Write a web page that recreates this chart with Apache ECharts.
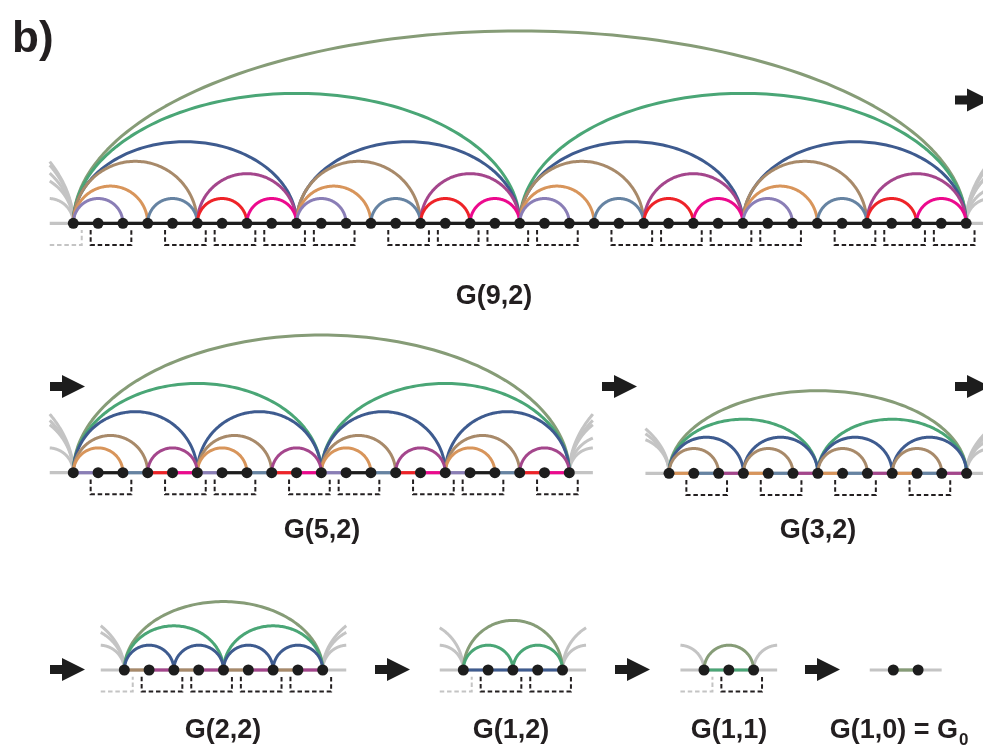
<!DOCTYPE html>
<html>
<head>
<meta charset="utf-8">
<script src="https://cdn.jsdelivr.net/npm/echarts@6/dist/echarts.min.js"></script>
<style>html,body{margin:0;padding:0;background:#fff}#c{width:983px;height:749px}</style>
</head>
<body>
<div id="c"></div>
<script>
// ---------------- DATA ----------------
// G(9,2)
const g92Nodes = [0,1,2,3,4,5,6,7,8,9,10,11,12,13,14,15,16,17,18,19,20,21,22,23,24,25,26,27,28,29,30,31,32,33,34,35,36];
const g92Arcs = [
  [0,36,'olive'],
  [0,18,'green'],[18,36,'green'],
  [0,9,'blue'],[9,18,'blue'],[18,27,'blue'],[27,36,'blue'],
  [0,5,'brown'],[9,14,'brown'],[18,23,'brown'],[27,32,'brown'],
  [5,9,'purple'],[14,18,'purple'],[23,27,'purple'],[32,36,'purple'],
  [0,3,'orange'],[9,12,'orange'],[18,21,'orange'],[27,30,'orange'],
  [3,5,'steel'],[12,14,'steel'],[21,23,'steel'],[30,32,'steel'],
  [5,7,'red'],[14,16,'red'],[23,25,'red'],[32,34,'red'],
  [7,9,'pink'],[16,18,'pink'],[25,27,'pink'],[34,36,'pink'],
  [0,2,'lavender'],[9,11,'lavender'],[18,20,'lavender'],[27,29,'lavender']
];
const g92Edges = [[0,36,'black']];
const g92Brackets = [[1,2],[4,5],[6,7],[8,9],[10,11],[13,14],[15,16],[17,18],[19,20],[22,23],[24,25],[26,27],[28,29],[31,32],[33,34],[35,36]];

// G(5,2)
const g52Nodes = [0,1,2,3,4,5,6,7,8,9,10,11,12,13,14,15,16,17,18,19,20];
const g52Arcs = [
  [0,20,'olive'],
  [0,10,'green'],[10,20,'green'],
  [0,5,'blue'],[5,10,'blue'],[10,15,'blue'],[15,20,'blue'],
  [0,3,'brown'],[5,8,'brown'],[10,13,'brown'],[15,18,'brown'],
  [0,2,'orange'],[5,7,'orange'],[10,12,'orange'],[15,17,'orange'],
  [3,5,'purple'],[8,10,'purple'],[13,15,'purple'],[18,20,'purple']
];
const g52Edges = [
  [0,1,'lavender'],[1,2,'black'],[2,3,'steel'],[3,4,'red'],[4,5,'pink'],
  [5,6,'lavender'],[6,7,'black'],[7,8,'steel'],[8,9,'red'],[9,10,'pink'],
  [10,11,'lavender'],[11,12,'black'],[12,13,'steel'],[13,14,'red'],[14,15,'pink'],
  [15,16,'lavender'],[16,17,'black'],[17,18,'steel'],[18,19,'red'],[19,20,'pink']
];
const g52Brackets = [[1,2],[4,5],[6,7],[9,10],[11,12],[14,15],[16,17],[19,20]];

// G(3,2)
const g32Nodes = [0,1,2,3,4,5,6,7,8,9,10,11,12];
const g32Arcs = [
  [0,12,'olive'],
  [0,6,'green'],[6,12,'green'],
  [0,3,'blue'],[3,6,'blue'],[6,9,'blue'],[9,12,'blue'],
  [0,2,'brown'],[3,5,'brown'],[6,8,'brown'],[9,11,'brown']
];
const g32Edges = [
  [0,1,'orange'],[1,2,'steel'],[2,3,'purple'],
  [3,4,'orange'],[4,5,'steel'],[5,6,'purple'],
  [6,7,'orange'],[7,8,'steel'],[8,9,'purple'],
  [9,10,'orange'],[10,11,'steel'],[11,12,'purple']
];
const g32Brackets = [[1,2],[4,5],[7,8],[10,11]];

// G(2,2)
const g22Nodes = [0,1,2,3,4,5,6,7,8];
const g22Arcs = [
  [0,8,'olive'],
  [0,4,'green'],[4,8,'green'],
  [0,2,'blue'],[2,4,'blue'],[4,6,'blue'],[6,8,'blue']
];
const g22Edges = [
  [0,1,'brown'],[1,2,'purple'],[2,3,'brown'],[3,4,'purple'],
  [4,5,'brown'],[5,6,'purple'],[6,7,'brown'],[7,8,'purple']
];
const g22Brackets = [[1,2],[3,4],[5,6],[7,8]];

// G(1,2)
const g12Nodes = [0,1,2,3,4];
const g12Arcs = [[0,4,'olive'],[0,2,'green'],[2,4,'green']];
const g12Edges = [[0,4,'blue']];
const g12Brackets = [[1,2],[3,4]];

// G(1,1)
const g11Nodes = [0,1,2];
const g11Arcs = [[0,2,'olive']];
const g11Edges = [[0,2,'green']];
const g11Brackets = [[1,2]];

// G(1,0)
const g10Nodes = [0,1];
const g10Arcs = [];
const g10Edges = [[0,1,'olive']];
const g10Brackets = [];

const labelTexts = ['G(9,2)','G(5,2)','G(3,2)','G(2,2)','G(1,2)','G(1,1)','G(1,0) = G'];

// ---------------- STYLE / LAYOUT ----------------
const COLORS = {
  olive:'#869c77', green:'#4aa676', blue:'#3e5b8f', brown:'#a88a6a', orange:'#d8955b',
  lavender:'#8a7eb6', steel:'#6683a2', purple:'#a4468c', red:'#ee2328', pink:'#ec098d',
  black:'#1d1d1d', gray:'#c4c4c4', text:'#231f20'
};
const UNIT = 24.8, ORIGIN_X = 73.3, W = 983, H = 749;
const GHOST = 0.95;
const FONT = '"Liberation Sans", Arial, Helvetica, sans-serif';

const GRAPHS = [
  {nodes:g92Nodes, arcs:g92Arcs, edges:g92Edges, brackets:g92Brackets, ghostBracket:true,  px:73.3,  py:223.3, flat:{olive:0.431, green:0.582, blue:0.731}, lx:494, ly:297},
  {nodes:g52Nodes, arcs:g52Arcs, edges:g52Edges, brackets:g52Brackets, ghostBracket:false, px:73.3,  py:472.7, flat:{olive:0.555, green:0.72, blue:0.985}, lx:322, ly:531},
  {nodes:g32Nodes, arcs:g32Arcs, edges:g32Edges, brackets:g32Brackets, ghostBracket:false, px:669,   py:473.3, flat:{olive:0.555, green:0.727, blue:0.97}, lx:818, ly:531},
  {nodes:g22Nodes, arcs:g22Arcs, edges:g22Edges, brackets:g22Brackets, ghostBracket:true,  px:124.3, py:670,   flat:{olive:0.69, green:0.89}, lx:223, ly:731},
  {nodes:g12Nodes, arcs:g12Arcs, edges:g12Edges, brackets:g12Brackets, ghostBracket:true,  px:463.3, py:670,   flat:{}, lx:511, ly:731},
  {nodes:g11Nodes, arcs:g11Arcs, edges:g11Edges, brackets:g11Brackets, ghostBracket:true,  px:704,   py:670,   flat:{}, lx:729, ly:731},
  {nodes:g10Nodes, arcs:g10Arcs, edges:g10Edges, brackets:g10Brackets, ghostBracket:false, px:893.3, py:670,   flat:{}, lx:null, ly:731}
];

// ---------------- RENDER HELPERS ----------------
function arcRender(params, api) {
  const xa = api.value(0), xb = api.value(1), y0 = api.value(2), r = api.value(3);
  const lo = api.value(4), hi = api.value(5);
  const cx = (xa + xb) / 2, a = (xb - xa) / 2, b = a * r;
  let t0 = 0, t1 = Math.PI;
  if (hi < xb) t0 = Math.acos(Math.max(-1, Math.min(1, (hi - cx) / a)));
  if (lo > xa) t1 = Math.acos(Math.max(-1, Math.min(1, (lo - cx) / a)));
  const pts = [], n = 120;
  for (let k = 0; k <= n; k++) {
    const t = t0 + (t1 - t0) * k / n;
    pts.push(api.coord([cx + a * Math.cos(t), y0 + b * Math.sin(t)]));
  }
  return {type:'polyline', shape:{points:pts},
    style:{stroke:api.visual('color'), lineWidth:3, fill:null, lineCap:'butt', lineJoin:'round'}};
}
function segRender(params, api) {
  const p1 = api.coord([api.value(0), api.value(2)]);
  const p2 = api.coord([api.value(1), api.value(2)]);
  return {type:'line', shape:{x1:p1[0], y1:p1[1], x2:p2[0], y2:p2[1]},
    style:{stroke:api.visual('color'), lineWidth:3.2, lineCap:'butt'}};
}
function bracketRender(params, api) {
  const xa = api.value(0), xb = api.value(1), y0 = api.value(2), ghost = api.value(3);
  const top = y0 - 0.27, bot = y0 - 0.87;
  let pts;
  if (ghost) pts = [[xa, bot],[xb, bot],[xb, top]];
  else pts = [[xa, top],[xa, bot],[xb, bot],[xb, top]];
  return {type:'polyline', shape:{points:pts.map(p => api.coord(p))},
    style:{stroke:api.visual('color'), lineWidth:2, fill:null, lineDash:[4.5,2.8]}};
}

// ---------------- BUILD SERIES ----------------
const series = [];
GRAPHS.forEach((g, gi) => {
  const x0 = (g.px - ORIGIN_X) / UNIT;
  const y0 = (H - g.py) / UNIT;
  const N = g.nodes[g.nodes.length - 1];
  const ratio = c => (g.flat[c] != null ? g.flat[c] : 1);

  // gray baseline extension
  series.push({type:'custom', renderItem:segRender, z:1, silent:true, animation:false,
    data:[{value:[x0 - GHOST, x0 + N + GHOST, y0], itemStyle:{color:COLORS.gray}}]});

  // ghost arcs: periodic continuation (arcs ending at last node shown left, arcs starting at 0 shown right)
  const ghosts = [];
  g.arcs.forEach(([s, e, c]) => {
    if (e === N) ghosts.push({value:[x0 + s - N, x0, y0, ratio(c), x0 - GHOST, x0 + 1], itemStyle:{color:COLORS.gray}});
    if (s === 0) ghosts.push({value:[x0 + N, x0 + N + e, y0, ratio(c), x0 + N - 1, x0 + N + GHOST], itemStyle:{color:COLORS.gray}});
  });
  series.push({type:'custom', renderItem:arcRender, z:2, silent:true, animation:false, data:ghosts});

  // arcs (large first so small ones sit on top)
  const arcData = g.arcs.slice().sort((p, q) => (q[1]-q[0]) - (p[1]-p[0])).map(([s, e, c]) =>
    ({value:[x0 + s, x0 + e, y0, ratio(c), x0 + s - 1, x0 + e + 1], itemStyle:{color:COLORS[c]}}));
  series.push({type:'custom', renderItem:arcRender, z:3, silent:true, animation:false, data:arcData});

  // baseline edges
  series.push({type:'custom', renderItem:segRender, z:4, silent:true, animation:false,
    data:g.edges.map(([s, e, c]) => ({value:[x0 + s, x0 + e, y0], itemStyle:{color:COLORS[c]}}))});

  // dashed brackets
  const br = g.brackets.map(([s, e]) => ({value:[x0 + s - 0.3, x0 + e + 0.34, y0, 0], itemStyle:{color:COLORS.text}}));
  if (g.ghostBracket) br.push({value:[x0 - GHOST, x0 + 0.34, y0, 1], itemStyle:{color:COLORS.gray}});
  series.push({type:'custom', renderItem:bracketRender, z:4, silent:true, animation:false, data:br});

  // nodes
  series.push({type:'scatter', z:6, silent:true, animation:false, symbol:'circle', symbolSize:11,
    itemStyle:{color:COLORS.black, opacity:1},
    data:g.nodes.map(i => [x0 + i, y0])});
});

// ---------------- DECORATIONS ----------------
function arrow(x, y) {
  return {type:'polygon', silent:true, z:10,
    shape:{points:[[x, y-4.5],[x+12, y-4.5],[x+12, y-11.5],[x+35, y],[x+12, y+11.5],[x+12, y+4.5],[x, y+4.5]]},
    style:{fill:'#1d1d1d'}};
}
const graphic = [
  {type:'text', x:12, y:40, z:10, silent:true,
    style:{text:'b)', font:'bold 44px ' + FONT, fill:COLORS.text, verticalAlign:'middle', align:'left'}},
  arrow(955, 100),
  arrow(50, 386.5), arrow(602, 386.5), arrow(955, 386.5),
  arrow(50, 669.5), arrow(375, 669.5), arrow(615, 669.5), arrow(805, 669.5)
];
GRAPHS.forEach((g, gi) => {
  if (g.lx == null) return;
  graphic.push({type:'text', x:g.lx, y:g.ly, z:10, silent:true,
    style:{text:labelTexts[gi], font:'bold 27px ' + FONT, fill:COLORS.text, align:'center', verticalAlign:'middle'}});
});
graphic.push({type:'text', x:958, y:731, z:10, silent:true,
  style:{text:labelTexts[6], font:'bold 27px ' + FONT, fill:COLORS.text, align:'right', verticalAlign:'middle'}});
graphic.push({type:'text', x:959, y:740, z:10, silent:true,
  style:{text:'0', font:'bold 17px ' + FONT, fill:COLORS.text, align:'left', verticalAlign:'middle'}});

const chart = echarts.init(document.getElementById('c'), null, {renderer:'canvas'});
chart.setOption({
  animation:false,
  backgroundColor:'#ffffff',
  grid:{left:0, top:0, right:0, bottom:0},
  xAxis:{type:'value', min:-ORIGIN_X/UNIT, max:-ORIGIN_X/UNIT + W/UNIT, show:false},
  yAxis:{type:'value', min:0, max:H/UNIT, show:false},
  series:series,
  graphic:graphic
});
</script>
</body>
</html>
